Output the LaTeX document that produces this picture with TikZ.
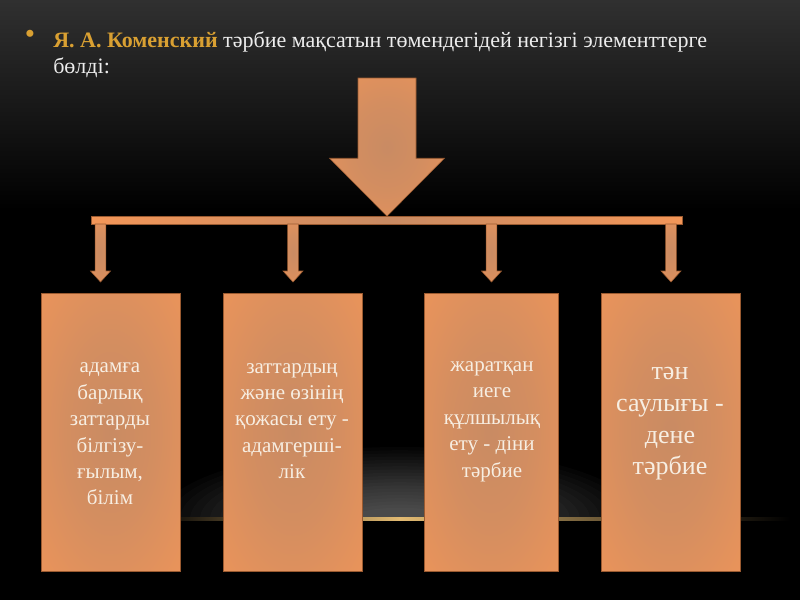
\documentclass[tikz,border=0pt]{standalone}
\usepackage{fontspec}
\setmainfont{Liberation Serif}
\usetikzlibrary{calc}
\definecolor{org}{HTML}{F39658}
\definecolor{orgmid}{HTML}{C98B63}
\definecolor{orgedge}{HTML}{9A5A30}
\definecolor{gold}{HTML}{D9A032}
\definecolor{cream}{HTML}{F7EEE2}
\definecolor{bgtop}{HTML}{303030}
\definecolor{goldline}{HTML}{E2BA72}
\pgfdeclareradialshading{boxglow}{\pgfpoint{0bp}{0bp}}{color(0bp)=(orgmid); color(16bp)=(orgmid!75!org); color(44bp)=(org); color(50bp)=(org)}
\tikzset{
  boxst/.style={shade, shading=boxglow, draw=orgedge, line width=0.5pt, minimum height=208.5pt, inner sep=0pt},
  arrst/.style={shade, shading=boxglow, draw=orgedge, line width=0.4pt},
  boxtext/.style={text=cream, align=center, font=\fontsize{15.75}{19.8}\selectfont, inner sep=0pt},
  titlefont/.style={font=\fontsize{16.5}{19.5}\selectfont, inner sep=0pt}
}
\newcommand\blockarr[5]{%
  \path[arrst] let \p1=(#1), \p2=(#2) in
    (\x1-#3,\y1) -- (\x1+#3,\y1) -- (\x1+#3,\y2+#5) -- (\x1+#4,\y2+#5) --
    (\x2,\y2) -- (\x1-#4,\y2+#5) -- (\x1-#3,\y2+#5) -- cycle;}
\begin{document}
\begin{tikzpicture}[x=0.75pt,y=-0.75pt]
\useasboundingbox (0,0) rectangle (800,600);
\fill[black] (0,0) rectangle (800,600);
\shade[top color=bgtop, bottom color=black] (0,0) rectangle (800,210);
% floor glow
\begin{scope}
  \clip (0,400) rectangle (800,519);
  \foreach \i in {0,...,19} {
    \fill[white, opacity=0.018] (400,519) ellipse [x radius={240-10*\i}, y radius={72-3.2*\i}];
  }
\end{scope}
\shade[left color=black, right color=goldline] (150,517.3) rectangle (400,520.5);
\shade[left color=goldline, right color=black] (399.5,517.3) rectangle (790,520.5);

% title
\node[font=\fontsize{22}{22}\selectfont, inner sep=0pt, text=gold] (bul) at (30,37) {•};
\node[titlefont, anchor=base west, text=white!93!black] (title1) at (53,47)
  {{\bfseries\color{gold}Я. А. Коменский} тәрбие мақсатын төмендегідей негізгі элементтерге};
\node[titlefont, anchor=base west, text=white!93!black] (title2) at (53,73) {бөлді:};

% bar
\node[draw=orgedge, line width=0.4pt, left color=org, right color=org, middle color=orgmid,
      minimum width=443.25pt, minimum height=5.6pt, inner sep=0pt] (bar) at (386.5,220.25) {};
% big arrow
\coordinate (bigtop) at (387,78);
\blockarr{bigtop}{bigtop |- bar.north}{21.75pt}{43.1pt}{43.5pt}

% boxes
\node[boxst, minimum width=104.25pt] (b1) at (110.5,432) {};
\node[boxst, minimum width=104.25pt] (b2) at (292.5,432) {};
\node[boxst, minimum width=100.5pt] (b3) at (491,432) {};
\node[boxst, minimum width=104.25pt] (b4) at (670.5,432) {};

% small arrows
\coordinate (s1) at (100.5,224); \coordinate (e1) at (100.5,282);
\coordinate (s2) at (293,224);   \coordinate (e2) at (293,282);
\coordinate (s3) at (491.5,224); \coordinate (e3) at (491.5,282);
\coordinate (s4) at (671,224);   \coordinate (e4) at (671,282);
\blockarr{s1}{e1}{4.1pt}{7.5pt}{8.25pt}
\blockarr{s2}{e2}{4.1pt}{7.5pt}{8.25pt}
\blockarr{s3}{e3}{4.1pt}{7.5pt}{8.25pt}
\blockarr{s4}{e4}{4.1pt}{7.5pt}{8.25pt}

% texts
\node[boxtext] (t1) at (110,434) {адамға\\барлық\\заттарды\\білгізу-\\ғылым,\\білім};
\node[boxtext] (t2) at (292,421) {заттардың\\және өзінің\\қожасы ету -\\адамгерші-\\лік};
\node[boxtext] (t3) at (492,421.5) {жаратқан\\иеге\\құлшылық\\ету - діни\\тәрбие};
\node[boxtext, font=\fontsize{19.5}{23.8}\selectfont] (t4) at (670,424) {тән\\саулығы -\\дене\\тәрбие};
\end{tikzpicture}
\end{document}
